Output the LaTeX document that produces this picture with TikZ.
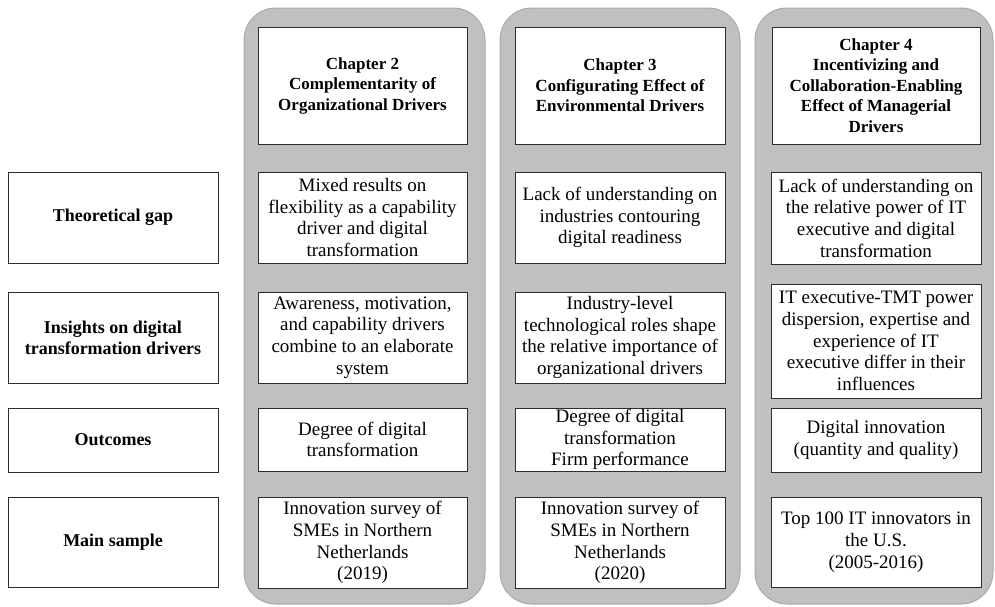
\documentclass[tikz,border=0pt]{standalone}
\usepackage{fontspec}
\setmainfont{Liberation Serif}
\definecolor{lanefill}{RGB}{191,192,194}
\definecolor{lanedraw}{RGB}{168,169,171}
\definecolor{boxline}{RGB}{45,45,45}
\newcommand\txtfont{\fontsize{19}{21.7}\selectfont}
\newcommand\bldfont{\fontsize{17}{20.5}\selectfont\bfseries}
\newcommand\lblfont{\fontsize{18}{21}\selectfont\bfseries}
\tikzset{
  lane/.style={draw=lanedraw, fill=lanefill, line width=1pt, rounded corners=32pt,
    inner sep=0pt},
  cell/.style={draw=boxline, fill=white, line width=0.9pt, align=center,
    inner sep=0pt, font=\txtfont},
  head/.style={cell, font=\bldfont},
  rowlabel/.style={cell, font=\lblfont}
}
\begin{document}
\begin{tikzpicture}[x=1pt, y=-1pt]
\useasboundingbox (0,0) rectangle (995,606);

% chapter lanes
\node[lane, minimum width=241pt, minimum height=596pt] (lane1) at (364.5,306) {};
\node[lane, minimum width=240pt, minimum height=596pt] (lane2) at (620,306) {};
\node[lane, minimum width=238pt, minimum height=596pt] (lane3) at (874,306) {};

% chapter headers
\node[head, minimum width=209pt, minimum height=117pt] (h1) at (362.5,85.5)
  {Chapter 2\\Complementarity of\\Organizational Drivers};
\node[head, minimum width=210pt, minimum height=117pt] (h2) at (620,85.5)
  {Chapter 3\\Configurating Effect of\\Environmental Drivers};
\node[head, minimum width=208pt, minimum height=117pt] (h3) at (876,85.5)
  {Chapter 4\\Incentivizing and\\Collaboration-Enabling\\Effect of Managerial\\Drivers};

% row labels
\node[rowlabel, minimum width=210pt, minimum height=91pt] (l1) at (113,217.5)
  {Theoretical gap};
\node[rowlabel, minimum width=210pt, minimum height=91pt] (l2) at (113,337.5)
  {Insights on digital\\transformation drivers};
\node[rowlabel, minimum width=210pt, minimum height=64pt] (l3) at (113,440)
  {Outcomes};
\node[rowlabel, minimum width=210pt, minimum height=90pt] (l4) at (113,542)
  {Main sample};

% chapter 2 cells
\node[cell, minimum width=209pt, minimum height=91pt] (a1) at (362.5,217.5)
  {Mixed results on\\flexibility as a capability\\driver and digital\\transformation};
\node[cell, minimum width=209pt, minimum height=91pt] (a2) at (362.5,337.5)
  {Awareness, motivation,\\and capability drivers\\combine to an elaborate\\system};
\node[cell, minimum width=209pt, minimum height=63pt] (a3) at (362.5,439.5)
  {Degree of digital\\transformation};
\node[cell, minimum width=209pt, minimum height=91pt] (a4) at (362.5,542.5)
  {Innovation survey of\\SMEs in Northern\\Netherlands\\(2019)};

% chapter 3 cells
\node[cell, minimum width=210pt, minimum height=91pt] (b1) at (620,217.5)
  {Lack of understanding on\\industries contouring\\digital readiness};
\node[cell, minimum width=210pt, minimum height=91pt] (b2) at (620,337.5)
  {Industry-level\\technological roles shape\\the relative importance of\\organizational drivers};
\node[cell, minimum width=210pt, minimum height=63pt] (b3) at (620,439.5)
  {Degree of digital\\transformation\\Firm performance};
\node[cell, minimum width=210pt, minimum height=91pt] (b4) at (620,542.5)
  {Innovation survey of\\SMEs in Northern\\Netherlands\\(2020)};

% chapter 4 cells
\node[cell, minimum width=210pt, minimum height=92pt] (c1) at (876,218)
  {Lack of understanding on\\the relative power of IT\\executive and digital\\transformation};
\node[cell, minimum width=210pt, minimum height=114pt] (c2) at (876,341)
  {IT executive-TMT power\\dispersion, expertise and\\experience of IT\\executive differ in their\\influences};
\node[cell, minimum width=210pt, minimum height=64pt] (c3) at (876,440)
  {Digital innovation\\(quantity and quality)};
\node[cell, minimum width=210pt, minimum height=90pt] (c4) at (876,542)
  {Top 100 IT innovators in\\the U.S.\\(2005-2016)};
\end{tikzpicture}
\end{document}
